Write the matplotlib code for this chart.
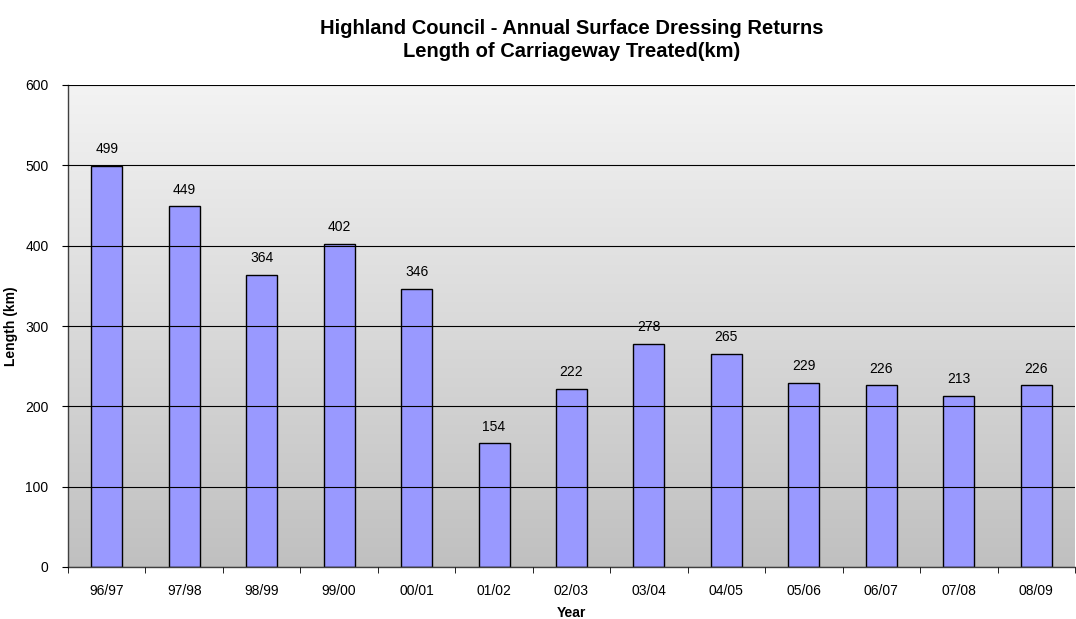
import numpy as np
import matplotlib
matplotlib.use('Agg')
import matplotlib.pyplot as plt
from matplotlib.colors import LinearSegmentedColormap

years = ['96/97', '97/98', '98/99', '99/00', '00/01', '01/02', '02/03',
         '03/04', '04/05', '05/06', '06/07', '07/08', '08/09']
lengths = [499, 449, 364, 402, 346, 154, 222, 278, 265, 229, 226, 213, 226]

plt.rcParams['font.family'] = ['Liberation Sans', 'DejaVu Sans']

fig = plt.figure(figsize=(10.76, 6.19), dpi=100)
ax = fig.add_axes([68 / 1076, 1 - 567 / 619, 1007 / 1076, (567 - 85) / 619])

x = np.arange(len(years))
ax.set_xlim(-0.5, len(years) - 0.5)
ax.set_ylim(0, 600)

# gradient background (light on top, grey at bottom)
cmap = LinearSegmentedColormap.from_list('bg', ['#c0c0c0', '#f3f3f3'])
grad = np.linspace(0, 1, 256).reshape(-1, 1)
ax.imshow(grad, aspect='auto', cmap=cmap, origin='lower',
          extent=(-0.5, len(years) - 0.5, 0, 600), zorder=0)

ax.set_yticks(range(0, 601, 100))
ax.yaxis.grid(True, color='black', linewidth=0.8, zorder=1)
ax.set_axisbelow(False)

bars = ax.bar(x, lengths, width=0.4, color='#9999ff', edgecolor='black',
              linewidth=1.0, zorder=2)
for xi, v in zip(x, lengths):
    ax.text(xi, v + 12, str(v), ha='center', va='bottom', fontsize=10, zorder=3)

ax.set_xticks(x)
ax.set_xticklabels(years, fontsize=10)
ax.set_xticks(np.arange(-0.5, len(years)), minor=True)
ax.tick_params(axis='x', which='major', length=0, pad=12)
ax.tick_params(axis='x', which='minor', length=4, direction='out', color='black')
ax.tick_params(axis='y', length=4, direction='out', labelsize=10, pad=10)

for side in ['top', 'right']:
    ax.spines[side].set_visible(False)
ax.spines['left'].set_linewidth(1.0)
ax.spines['bottom'].set_linewidth(1.0)
ax.spines['left'].set_color('#404040')
ax.spines['bottom'].set_color('#404040')

ax.set_xlabel('Year', fontsize=10, fontweight='bold', labelpad=6)
ax.set_ylabel('Length (km)', fontsize=10, fontweight='bold')
ax.yaxis.set_label_coords((18 - 68) / 1007, 0.5)

fig.text(0.5 * (68 + 1076) / 1076, 1 - 40 / 619,
         'Highland Council - Annual Surface Dressing Returns\nLength of Carriageway Treated(km)',
         ha='center', va='center', fontsize=14.5, fontweight='bold', linespacing=1.25)

fig.savefig('out.png', dpi=100)
